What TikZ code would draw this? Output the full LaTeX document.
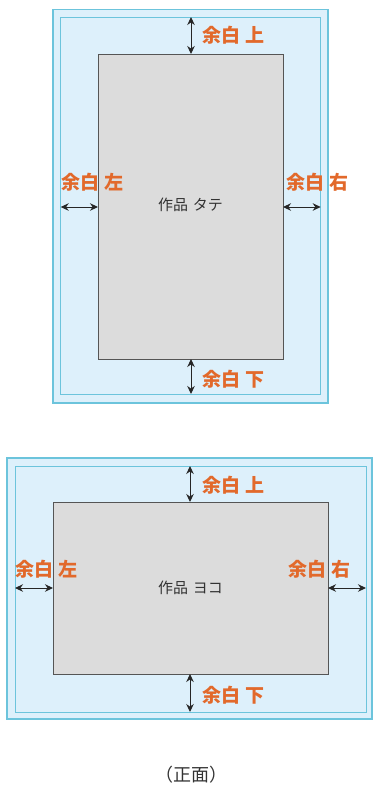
\documentclass[tikz,border=0pt]{standalone}
\usepackage{fontspec}
\newfontfamily\cjk{Noto Sans CJK JP}
\usetikzlibrary{arrows.meta}
\definecolor{paper}{HTML}{DDF0FB}
\definecolor{edgeblue}{HTML}{6CC4DC}
\definecolor{workgray}{HTML}{DCDCDC}
\definecolor{workedge}{HTML}{555555}
\definecolor{mlabel}{HTML}{E2692B}
\definecolor{wtext}{HTML}{333333}
\newcommand{\gapsp}{\hspace{5pt}}
\tikzset{
  outerbox/.style={draw=edgeblue, line width=1.3pt, fill=paper},
  innerbox/.style={draw=edgeblue, line width=0.9pt},
  workbox/.style={draw=workedge, line width=0.9pt, fill=workgray},
  marg/.style={font=\cjk\bfseries\fontsize{19}{19}\selectfont, text=mlabel, inner sep=0pt, anchor=west},
  worklabel/.style={font=\cjk\fontsize{15}{15}\selectfont, text=wtext, inner sep=0pt},
  caplabel/.style={font=\cjk\fontsize{18}{18}\selectfont, text=wtext, inner sep=0pt},
  dim/.style={{Stealth[length=8pt,width=7.5pt]}-{Stealth[length=8pt,width=7.5pt]}, line width=1pt, black!85}
}
\begin{document}
\begin{tikzpicture}[x=1pt,y=-1pt]
\useasboundingbox (0,0) rectangle (373,787);
% ---- top (portrait)
\draw[outerbox] (53,9.5) rectangle (328,403);
\draw[innerbox] (60.7,17) rectangle (320.7,394);
\draw[workbox] (98,54) rectangle (283,359);
\node[worklabel] (w1) at (190.5,205) {作品\gapsp タテ};
\coordinate (t1a) at (191,17); \coordinate (t1b) at (191,54);
\coordinate (b1a) at (191,359); \coordinate (b1b) at (191,394);
\coordinate (l1a) at (60.7,207); \coordinate (l1b) at (98,207);
\coordinate (r1a) at (283,207); \coordinate (r1b) at (320.7,207);
\draw[dim] (t1a) -- (t1b);
\draw[dim] (b1a) -- (b1b);
\draw[dim] (l1a) -- (l1b);
\draw[dim] (r1a) -- (r1b);
\node[marg] (mt1) at (202,35) {余白\gapsp 上};
\node[marg] (mb1) at (202,379) {余白\gapsp 下};
\node[marg] (ml1) at (61,182) {余白\gapsp 左};
\node[marg] (mr1) at (286,182) {余白\gapsp 右};
% ---- bottom (landscape)
\draw[outerbox] (7,458) rectangle (372,719);
\draw[innerbox] (15,466) rectangle (366,712);
\draw[workbox] (53,502) rectangle (328,674);
\node[worklabel] (w2) at (190.5,588) {作品\gapsp ヨコ};
\coordinate (t2a) at (190,466); \coordinate (t2b) at (190,502);
\coordinate (b2a) at (190,674); \coordinate (b2b) at (190,712);
\coordinate (l2a) at (15,588); \coordinate (l2b) at (53,588);
\coordinate (r2a) at (328,588); \coordinate (r2b) at (366,588);
\draw[dim] (t2a) -- (t2b);
\draw[dim] (b2a) -- (b2b);
\draw[dim] (l2a) -- (l2b);
\draw[dim] (r2a) -- (r2b);
\node[marg] (mt2) at (202,485) {余白\gapsp 上};
\node[marg] (mb2) at (202,695) {余白\gapsp 下};
\node[marg] (ml2) at (15,569) {余白\gapsp 左};
\node[marg] (mr2) at (288,569) {余白\gapsp 右};
% caption
\node[caplabel] (cap) at (191,775) {（正面）};
\end{tikzpicture}
\end{document}
